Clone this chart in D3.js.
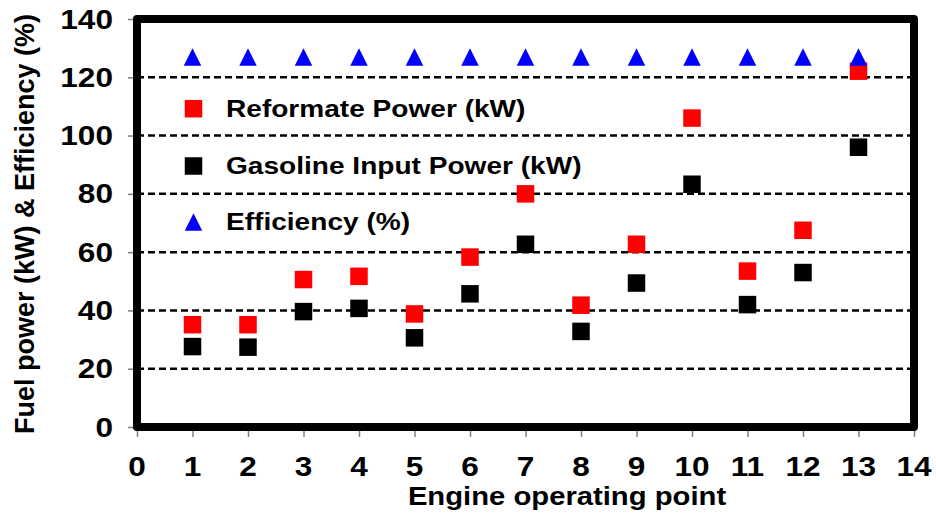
<!DOCTYPE html>
<html><head><meta charset="utf-8">
<script src="https://cdnjs.cloudflare.com/ajax/libs/d3/7.8.5/d3.min.js"></script>
<style>body{margin:0;background:#fff}svg{display:block}text{font-family:"Liberation Sans",Arial,sans-serif;font-weight:bold;fill:#000}</style>
</head><body><svg id="c" width="936" height="515"></svg>
<script>
const points = [1,2,3,4,5,6,7,8,9,10,11,12,13];
const reformatePower = [35.1,35.1,50.6,51.7,38.8,58.3,80.0,41.8,62.7,106.0,53.5,67.5,122.1];
const gasolinePower = [27.6,27.4,39.6,40.7,30.6,45.7,62.7,32.8,49.4,83.3,42.0,53.0,96.0];
const efficiency = [127,127,127,127,127,127,127,127,127,127,127,127,127];
const xTicks = [0,1,2,3,4,5,6,7,8,9,10,11,12,13,14];
const yTicks = [0,20,40,60,80,100,120,140];
const gridValues = [20,40,60,80,100,120];
const legendItems = ["Reformate Power (kW)","Gasoline Input Power (kW)","Efficiency (%)"];

const svg = d3.select("#c");
const L=137, R=914, T=19, B=427;
const x = d3.scaleLinear().domain([0,14]).range([L,R]);
const y = d3.scaleLinear().domain([0,140]).range([B,T]);
const SX = 1.17;

// gridlines
svg.append("g").selectAll("line").data(gridValues).join("line")
  .attr("x1",L).attr("x2",R).attr("y1",d=>y(d)).attr("y2",d=>y(d))
  .attr("stroke","#000").attr("stroke-width",2.5).attr("stroke-dasharray","7,4");

// axes ticks (gray)
const yAxis = svg.append("g").attr("transform",`translate(${L},0)`)
  .call(d3.axisLeft(y).tickValues(yTicks).tickSize(9).tickFormat(""));
const xAxis = svg.append("g").attr("transform",`translate(0,${B})`)
  .call(d3.axisBottom(x).tickValues(xTicks).tickSize(10).tickFormat(""));
[yAxis,xAxis].forEach(a=>{a.select(".domain").remove();a.selectAll("line").attr("stroke","#808080").attr("stroke-width",1.5);});

// tick labels
svg.append("g").selectAll("text").data(yTicks).join("text")
  .attr("transform",d=>`translate(113,${y(d)+9.5}) scale(${SX},1)`)
  .attr("text-anchor","end").style("font-size","27px").text(d=>d);
svg.append("g").selectAll("text").data(xTicks).join("text")
  .attr("transform",d=>`translate(${x(d)},${476}) scale(${SX},1)`)
  .attr("text-anchor","middle").style("font-size","27px").text(d=>d);

// border
svg.append("rect").attr("x",L).attr("y",T).attr("width",R-L).attr("height",B-T)
  .attr("fill","none").attr("stroke","#000").attr("stroke-width",8).attr("stroke-linejoin","round");

// markers
const S = 17.5;
svg.append("g").selectAll("rect").data(points).join("rect")
  .attr("x",(d)=>x(d)-S/2).attr("y",(d,i)=>y(gasolinePower[i])-S/2)
  .attr("width",S).attr("height",S).attr("fill","#000");
svg.append("g").selectAll("rect").data(points).join("rect")
  .attr("x",(d)=>x(d)-S/2).attr("y",(d,i)=>y(reformatePower[i])-S/2)
  .attr("width",S).attr("height",S).attr("fill","#ff0000");
const tri = (cx,cy)=>`M${cx},${cy-S/2}L${cx+S/2},${cy+S/2}L${cx-S/2},${cy+S/2}Z`;
svg.append("g").selectAll("path").data(points).join("path")
  .attr("d",(d,i)=>tri(x(d),y(efficiency[i]))).attr("fill","#0000ff");

// legend
const legY = [108.7,166,222];
const lg = svg.append("g");
lg.append("rect").attr("x",193.5-S/2).attr("y",legY[0]-S/2).attr("width",S).attr("height",S).attr("fill","#ff0000");
lg.append("rect").attr("x",193.5-S/2).attr("y",legY[1]-S/2).attr("width",S).attr("height",S).attr("fill","#000");
lg.append("path").attr("d",tri(193.5,legY[2])).attr("fill","#0000ff");
lg.selectAll("text").data(legendItems).join("text")
  .attr("transform",(d,i)=>`translate(226,${legY[i]+8}) scale(${SX},1)`)
  .style("font-size","24px").text(d=>d);

// axis titles
svg.append("text").attr("transform",`translate(567,505) scale(${SX},1)`)
  .attr("text-anchor","middle").style("font-size","25px").text("Engine operating point");
svg.append("text").attr("transform",`translate(34,224) rotate(-90)`)
  .attr("text-anchor","middle").style("font-size","27px").text("Fuel power (kW) & Efficiency (%)");
</script></body></html>
